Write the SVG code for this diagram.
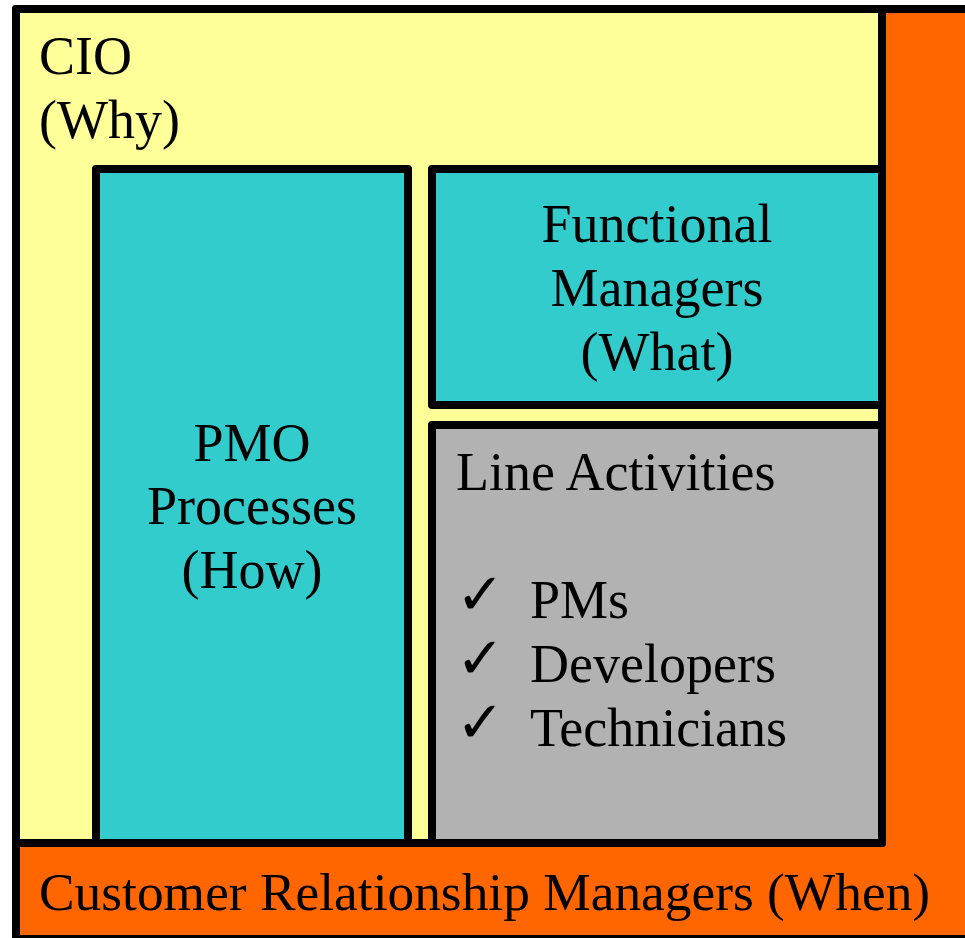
<svg xmlns="http://www.w3.org/2000/svg" width="965" height="938" viewBox="0 0 965 938">
  <style>
    .box { stroke: #000; stroke-width: 8; stroke-linejoin: round; }
    .cio { fill: #FFFF99; }
    .crm { fill: #FF6600; }
    .teal { fill: #33CCCC; }
    .line { fill: #B2B2B2; }
    .lbl { font-family: "Liberation Serif", "Times New Roman", "DejaVu Serif", serif; font-size: 54px; fill: #000; }
    .wide { font-size: 53.4px; }
    .mid { text-anchor: middle; }
    .tick { font-family: "DejaVu Sans", sans-serif; font-size: 58px; fill: #000; }
  </style>
  <rect width="965" height="938" fill="#FFFFFF"/>

  <!-- Customer Relationship Managers: L-shaped band behind everything -->
  <g id="crm">
    <rect class="box crm" x="16" y="9" width="960" height="930"/>
    <text class="lbl wide" x="39" y="910">Customer Relationship Managers (When)</text>
  </g>

  <!-- CIO area -->
  <g id="cio">
    <rect class="box cio" x="16" y="9" width="866" height="834"/>
    <text class="lbl" x="39" y="74">CIO</text>
    <text class="lbl" x="39" y="138">(Why)</text>
  </g>

  <!-- PMO processes -->
  <g id="pmo">
    <rect class="box teal" x="96" y="169" width="312" height="674"/>
    <text class="lbl mid" x="252" y="461">PMO</text>
    <text class="lbl mid" x="252" y="524">Processes</text>
    <text class="lbl mid" x="252" y="588">(How)</text>
  </g>

  <!-- Functional managers -->
  <g id="functional">
    <rect class="box teal" x="432" y="169" width="450" height="236"/>
    <text class="lbl mid" x="657" y="242">Functional</text>
    <text class="lbl mid" x="657" y="306">Managers</text>
    <text class="lbl mid" x="657" y="370">(What)</text>
  </g>

  <!-- Line activities -->
  <g id="line-activities">
    <rect class="box line" x="432" y="425" width="450" height="418"/>
    <text class="lbl" x="456" y="490">Line Activities</text>
    <text class="tick" x="456" y="614">✓</text>
    <text class="lbl" x="530" y="618">PMs</text>
    <text class="tick" x="456" y="678">✓</text>
    <text class="lbl" x="530" y="682">Developers</text>
    <text class="tick" x="456" y="742">✓</text>
    <text class="lbl" x="530" y="746">Technicians</text>
  </g>

  <g id="connectors"></g>
</svg>
